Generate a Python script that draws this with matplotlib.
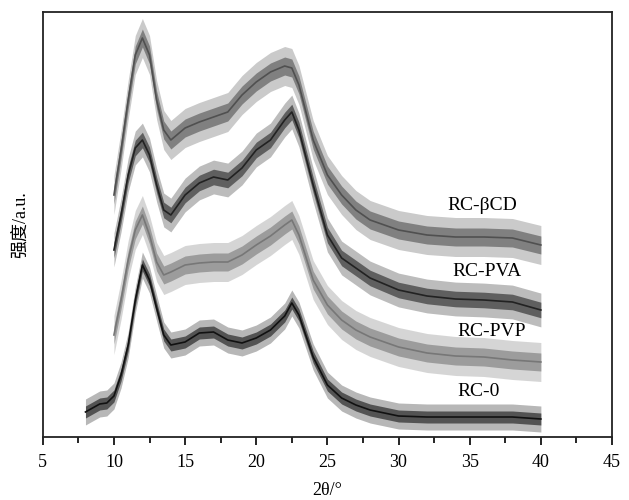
import matplotlib.pyplot as plt
import numpy as np

# XRD patterns of the regenerated cellulose samples (intensity in a.u.)
two_theta = [10, 10.5, 11, 11.5, 12, 12.5, 13, 13.5, 14, 15, 16, 17, 18, 19, 20,
             21, 22, 22.5, 23, 24, 25, 26, 27, 28, 30, 32, 34, 36, 38, 40]
two_theta_rc0 = [8, 8.5, 9, 9.5] + two_theta

rc0 = [25, 29, 33, 34, 41, 62, 92, 137, 172, 157, 129, 102, 92, 95, 104, 105,
       97, 94, 99, 107, 121, 134, 122, 80, 52, 39, 32, 27, 21, 20, 20, 20, 20, 18]
rc_pvp = [102, 137, 177, 207, 222, 202, 175, 162, 165, 172, 174, 175, 175, 182, 192,
          201, 212, 217, 202, 157, 132, 117, 107, 100, 90, 84, 81, 80, 77, 75]
rc_pva = [187, 222, 262, 289, 297, 282, 252, 227, 222, 242, 254, 260, 257, 269, 287,
          297, 317, 325, 307, 252, 202, 179, 169, 159, 147, 141, 138, 137, 135, 127]
rc_bcd = [242, 287, 337, 382, 399, 382, 337, 307, 297, 309, 315, 320, 325, 342, 355,
          365, 371, 369, 352, 297, 262, 242, 227, 217, 207, 202, 200, 200, 199, 192]

# noise band half-width for each pattern
spread = {'RC-0': 10, 'RC-PVP': 15, 'RC-PVA': 13, 'RC-βCD': 15}
colors = {'RC-0': '#111111', 'RC-PVP': '#777777', 'RC-PVA': '#222222', 'RC-βCD': '#505050'}

labels = ['RC-βCD', 'RC-PVA', 'RC-PVP', 'RC-0']
label_x = [33.4, 33.75, 34.1, 34.1]
label_y = [232, 166, 106, 45]

fig = plt.figure(figsize=(6.29, 5.0), dpi=100)
ax = fig.add_axes([0.068, 0.126, 0.905, 0.85])

series = [('RC-βCD', two_theta, rc_bcd), ('RC-PVA', two_theta, rc_pva),
          ('RC-PVP', two_theta, rc_pvp), ('RC-0', two_theta_rc0, rc0)]
for name, x, y in series:
    y = np.array(y)
    w = spread[name]
    # outer (spikes) and inner (dense core) noise bands
    ax.fill_between(x, y - 1.3 * w, y + 1.3 * w, color=colors[name], alpha=0.3, lw=0)
    ax.fill_between(x, y - 0.6 * w, y + 0.6 * w, color=colors[name], alpha=0.6, lw=0)
    ax.plot(x, y, color=colors[name], lw=1.2)

for t, lx, ly in zip(labels, label_x, label_y):
    ax.text(lx, ly, t, fontsize=14, family='Liberation Serif', va='center', ha='left')

ax.set_xlim(5, 45)
ax.set_ylim(0, 425)
ax.set_xticks(np.arange(5, 46, 5))
ax.set_xticks(np.arange(7.5, 45, 5), minor=True)
ax.set_yticks([])
ax.tick_params(axis='x', which='major', direction='out', length=6, width=1.2,
               labelsize=13, pad=6)
ax.tick_params(axis='x', which='minor', direction='out', length=4, width=1.2)
for lab in ax.get_xticklabels():
    lab.set_family('Liberation Serif')
for s in ax.spines.values():
    s.set_linewidth(1.3)
    s.set_color('#222222')

ax.set_xlabel('2θ/°', fontsize=13, family='Liberation Serif', labelpad=8)
ax.set_ylabel('强度/a.u.', fontsize=13, family=['Liberation Serif', 'Noto Sans CJK SC'],
              labelpad=10)

fig.savefig('out.png', dpi=100)
